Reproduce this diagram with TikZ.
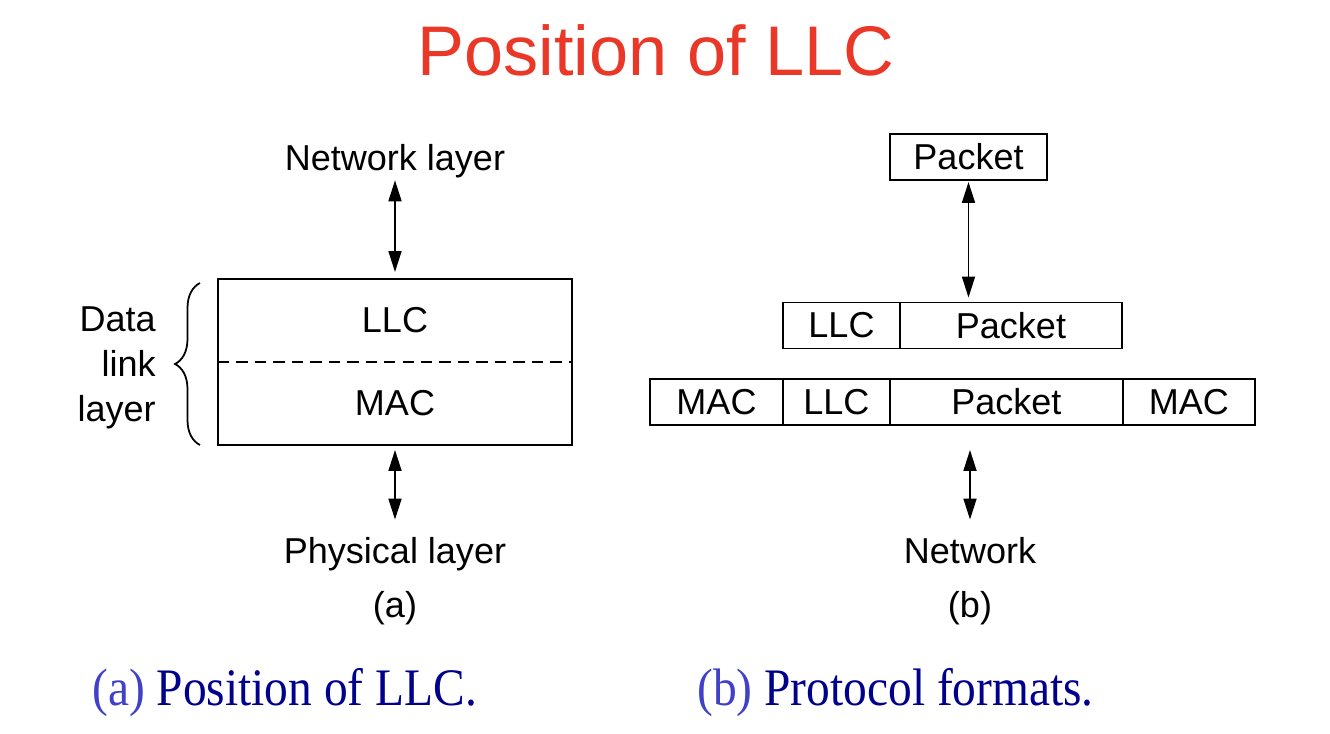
\documentclass[tikz,border=0pt]{standalone}
\usepackage{fontspec}
\setmainfont{Liberation Sans}
\newfontfamily\capfont{Liberation Serif}
\usetikzlibrary{arrows.meta,decorations.pathreplacing,positioning}
\definecolor{titlered}{RGB}{234,56,40}
\definecolor{capblue}{RGB}{64,64,200}
\definecolor{capnavy}{RGB}{0,0,140}
\tikzset{%
	lbl/.style      = {inner sep=0pt, anchor=base, font=\fontsize{20.5}{24.5}\selectfont},
	field/.style    = {draw, rectangle, line width=1.1pt, minimum height=0.92cm, inner sep=0pt, outer sep=0pt, font=\fontsize{20.5}{24.5}\selectfont},
	half/.style     = {rectangle, minimum width=7.08cm, minimum height=1.66cm, inner sep=0pt, outer sep=0pt, font=\fontsize{20.5}{24.5}\selectfont},
	link/.style     = {line width=1pt, {Triangle[length=0.42cm,width=0.26cm]}-{Triangle[length=0.42cm,width=0.26cm]}},
	caption/.style  = {inner sep=0pt, anchor=base west, transform shape, xscale=0.9, font=\capfont\fontsize{30}{36}\selectfont, text=capnavy},
}

\begin{document}
\begin{tikzpicture}[x=0.02cm,y=-0.02cm]
	\useasboundingbox (0,0) rectangle (1330,734);
	\node [inner sep=0pt,anchor=base,text=titlered,font=\fontsize{40}{48}\selectfont] (title) at (656,75) {Position of LLC};
	
	% (a) position of LLC
	\node [lbl] (netlayer) at (395,170) {Network layer};
	\node [half] (llc) at (395,320.5) {LLC};
	\node [half] (mac) [below=0pt of llc] {MAC};
	\node [lbl] (phys) at (395,563) {Physical layer};
	\node [lbl] (suba) at (395,617) {(a)};
	\node [inner sep=0pt,anchor=east,align=right,font=\fontsize{20.5}{25.5}\selectfont] (dll) at (156,368) {Data\\link\\layer};
	\coordinate (bracebot) at (200,445);
	\coordinate (bracetop) at (200,283);
	
	\draw [line width=1.1pt] (llc.north west) rectangle (mac.south east);
	\draw [line width=1.1pt,dash pattern=on 6.5pt off 4pt] (llc.south west) -- (llc.south east);
	\draw [decorate,decoration={brace,amplitude=0.5cm},line width=1pt] (bracebot) -- (bracetop);
	\draw [link,shorten <=0.05cm,shorten >=0.14cm] (netlayer.south) -- (llc.north);
	\draw [link,shorten <=0.1cm,shorten >=0.34cm] (mac.south) -- (phys.north);
	
	% (b) protocol formats
	\node [field,minimum width=3.14cm] (pkttop) at (968.5,157) {Packet};
	\node [field,minimum width=2.34cm] (llcmid) at (841.5,325.5) {LLC};
	\node [field,minimum width=4.44cm] (pktmid) [right=0pt of llcmid] {Packet};
	\node [field,minimum width=2.66cm] (macl) at (716.5,402) {MAC};
	\node [field,minimum width=2.14cm] (llcbot) [right=0pt of macl] {LLC};
	\node [field,minimum width=4.66cm] (pktbot) [right=0pt of llcbot] {Packet};
	\node [field,minimum width=2.64cm] (macr) [right=0pt of pktbot] {MAC};
	\node [lbl] (net) at (970,563) {Network};
	\node [lbl] (subb) at (970,617) {(b)};
	
	\draw [link,shorten <=0.04cm,shorten >=0.1cm] (pkttop.south) -- (pkttop.south |- pktmid.north);
	\draw [link,shorten <=0.5cm,shorten >=0.34cm] (net.north |- pktbot.south) -- (net.north);
	
	\node [caption] (capa) at (92,705) {\textcolor{capblue}{(a)} Position of LLC.};
	\node [caption] (capb) at (697,705) {\textcolor{capblue}{(b)} Protocol formats.};
\end{tikzpicture}
\end{document}
